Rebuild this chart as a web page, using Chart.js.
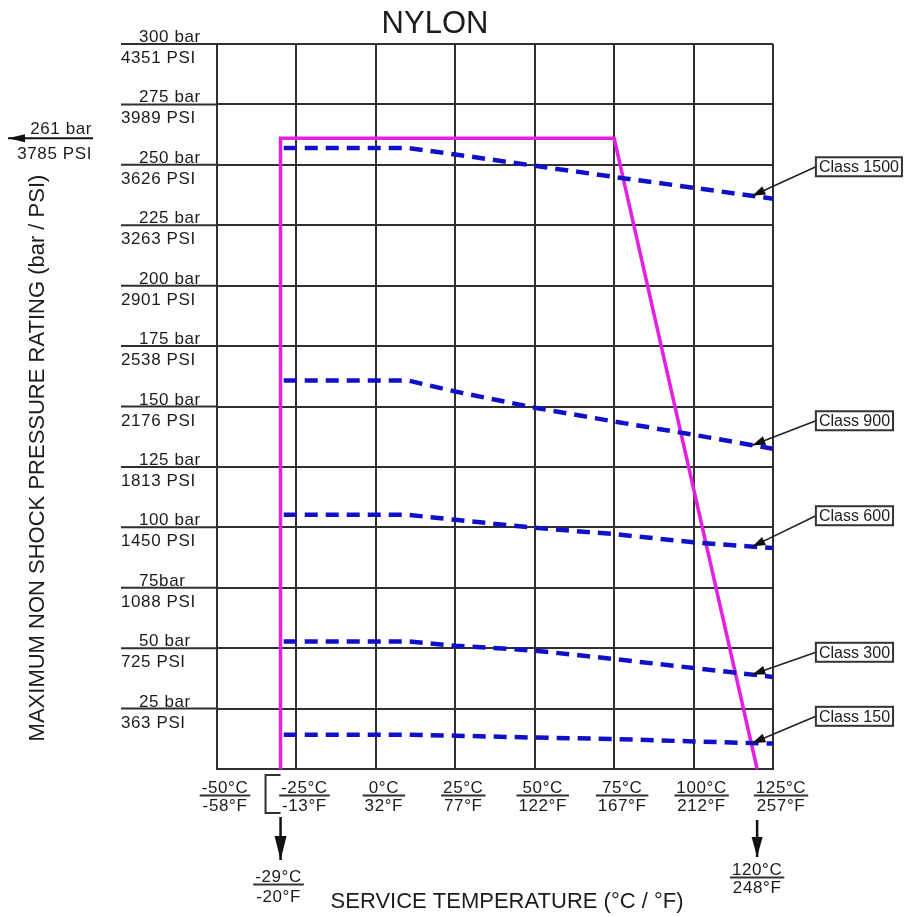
<!DOCTYPE html>
<html>
<head>
<meta charset="utf-8">
<script src="https://cdn.jsdelivr.net/npm/chart.js@4.4.1/dist/chart.umd.min.js"></script>
<style>
  html, body { margin: 0; padding: 0; background: #ffffff; }
  canvas { display: block; }
</style>
</head>
<body>
<canvas id="c" width="908" height="917"></canvas>
<script>
// ---------------- DATA ----------------
const chartTitle = 'NYLON';
const xTickC = ['-50°C', '-25°C', '0°C', '25°C', '50°C', '75°C', '100°C', '125°C'];
const xTickF = ['-58°F', '-13°F', '32°F', '77°F', '122°F', '167°F', '212°F', '257°F'];
const xTickValues = [-50, -25, 0, 25, 50, 75, 100, 125];
const yTickValues = [25, 50, 75, 100, 125, 150, 175, 200, 225, 250, 275, 300];
const yTickBar = ['25 bar', '50 bar', '75bar', '100 bar', '125 bar', '150 bar', '175 bar', '200 bar', '225 bar', '250 bar', '275 bar', '300 bar'];
const yTickPsi = ['363 PSI', '725 PSI', '1088 PSI', '1450 PSI', '1813 PSI', '2176 PSI', '2538 PSI', '2901 PSI', '3263 PSI', '3626 PSI', '3989 PSI', '4351 PSI'];

const classNames = ['Class 150', 'Class 300', 'Class 600', 'Class 900', 'Class 1500'];
const classTemps = [-29, 10, 25, 50, 75, 100, 125];
const class150  = [14.2, 14.2, 13.8, 13.0, 12.4, 11.4, 10.5];
const class300  = [52.8, 52.8, 51.0, 49.0, 45.5, 41.8, 38.1];
const class600  = [105.2, 105.2, 103.1, 99.8, 97.2, 93.8, 91.4];
const class900  = [160.8, 160.8, 156.2, 149.5, 143.8, 138.3, 132.5];
const class1500 = [257.0, 257.0, 254.3, 249.6, 245.0, 240.5, 236.0];
const classSeries = [class150, class300, class600, class900, class1500];

const nylonTemps = [-30, -30, 75, 120];
const nylonBar   = [0, 261, 261, 0];

const maxRatingBar = '261 bar';
const maxRatingPsi = '3785 PSI';
const minTempC = '-29°C', minTempF = '-20°F';
const maxTempC = '120°C', maxTempF = '248°F';
const yTitle = 'MAXIMUM NON SHOCK PRESSURE RATING (bar / PSI)';
const xTitle = 'SERVICE TEMPERATURE (°C / °F)';

// ---------------- LAYOUT / STYLE ----------------
const W = 908, H = 917;
const PLOT_LEFT = 217, PLOT_TOP = 44, PLOT_RIGHT = 773, PLOT_BOTTOM = 769;
const GRID = '#303030';
const TEXT = '#1c1c1c';
const BLUE = '#1010c8';
const MAGENTA = '#e421e2';
const FONT = '"Liberation Sans", Arial, sans-serif';
// class label boxes: anchor (box left-middle) in data units, arrow tip temperature
const labelBoxTemp = 138.5;
const labelBoxBar = [21.8, 48.3, 104.8, 144.1, 249.2];
const labelTipTemp = 118.5;

function interp(xs, ys, x) {
  for (let i = 0; i < xs.length - 1; i++) {
    if (x >= xs[i] && x <= xs[i + 1]) {
      const t = (x - xs[i]) / (xs[i + 1] - xs[i]);
      return ys[i] + t * (ys[i + 1] - ys[i]);
    }
  }
  return ys[ys.length - 1];
}

function arrow(ctx, x1, y1, x2, y2, len, half) {
  ctx.beginPath(); ctx.moveTo(x1, y1); ctx.lineTo(x2, y2); ctx.stroke();
  const a = Math.atan2(y2 - y1, x2 - x1);
  const bx = x2 - len * Math.cos(a), by = y2 - len * Math.sin(a);
  ctx.beginPath();
  ctx.moveTo(x2, y2);
  ctx.lineTo(bx + half * Math.sin(a), by - half * Math.cos(a));
  ctx.lineTo(bx - half * Math.sin(a), by + half * Math.cos(a));
  ctx.closePath(); ctx.fill();
}

function fraction(ctx, cx, b1, top, bottom, gap) {
  ctx.font = '17px ' + FONT;
  ctx.letterSpacing = '0.6px';
  ctx.textAlign = 'center';
  ctx.textBaseline = 'alphabetic';
  const w = Math.max(ctx.measureText(top).width, ctx.measureText(bottom).width);
  ctx.fillText(top, cx, b1);
  ctx.fillText(bottom, cx, b1 + gap);
  ctx.beginPath();
  ctx.lineWidth = 1.8;
  ctx.moveTo(cx - w / 2 - 2, b1 + 2.5);
  ctx.lineTo(cx + w / 2 + 2, b1 + 2.5);
  ctx.stroke();
  ctx.letterSpacing = '0px';
}

const decorPlugin = {
  id: 'decor',
  afterDraw(chart) {
    const ctx = chart.ctx;
    const xs = chart.scales.x, ys = chart.scales.y;
    const area = chart.chartArea;
    ctx.save();
    ctx.fillStyle = TEXT;
    ctx.strokeStyle = GRID;

    // Title
    ctx.font = '31px ' + FONT;
    ctx.textAlign = 'center';
    ctx.textBaseline = 'alphabetic';
    ctx.fillText(chartTitle, 435, 33);

    // Y tick extensions and labels
    ctx.font = '17px ' + FONT;
    ctx.letterSpacing = '0.6px';
    yTickValues.forEach((v, i) => {
      const y = ys.getPixelForValue(v);
      ctx.beginPath(); ctx.lineWidth = 2;
      ctx.moveTo(121, y); ctx.lineTo(area.left, y); ctx.stroke();
      ctx.textAlign = 'left';
      ctx.fillText(yTickBar[i], 139, y - 2);
      ctx.fillText(yTickPsi[i], 121, y + 19);
    });

    // 261 bar arrow on the left
    const yMax = ys.getPixelForValue(nylonBar[1]);
    ctx.textAlign = 'right';
    ctx.fillText(maxRatingBar, 92, yMax - 4);
    ctx.fillText(maxRatingPsi, 92, yMax + 21);
    ctx.letterSpacing = '0px';
    ctx.strokeStyle = '#111'; ctx.fillStyle = '#111'; ctx.lineWidth = 2;
    arrow(ctx, 93, yMax, 8, yMax, 17, 4);
    ctx.fillStyle = TEXT; ctx.strokeStyle = GRID;

    // X tick fraction labels
    xTickValues.forEach((v, i) => {
      const x = xs.getPixelForValue(v) + 8;
      fraction(ctx, x, 793, xTickC[i], xTickF[i], 18);
    });

    // -29 °C bracket + arrow
    const xMin = xs.getPixelForValue(nylonTemps[0]);
    ctx.strokeStyle = GRID; ctx.lineWidth = 2;
    ctx.beginPath();
    ctx.moveTo(xMin, 775); ctx.lineTo(xMin - 15, 775);
    ctx.lineTo(xMin - 15, 813); ctx.lineTo(xMin, 813);
    ctx.stroke();
    ctx.strokeStyle = '#111'; ctx.fillStyle = '#111'; ctx.lineWidth = 2.5;
    arrow(ctx, xMin, 817, xMin, 860, 24, 6);
    ctx.fillStyle = TEXT; ctx.strokeStyle = '#333';
    fraction(ctx, xMin - 2, 882, minTempC, minTempF, 20);

    // 120 °C arrow
    const xEnd = xs.getPixelForValue(nylonTemps[3]);
    ctx.strokeStyle = '#111'; ctx.fillStyle = '#111'; ctx.lineWidth = 2.5;
    arrow(ctx, xEnd, 820, xEnd, 857, 20, 5.5);
    ctx.fillStyle = TEXT; ctx.strokeStyle = '#333';
    fraction(ctx, xEnd, 875, maxTempC, maxTempF, 18);

    // Axis titles
    ctx.font = '22px ' + FONT;
    ctx.textAlign = 'center';
    ctx.textBaseline = 'alphabetic';
    ctx.fillText(xTitle, 507, 908);
    ctx.save();
    ctx.translate(43.5, 458);
    ctx.rotate(-Math.PI / 2);
    ctx.fillText(yTitle, 0, 0);
    ctx.restore();

    // Class labels with leader arrows
    ctx.font = '16px ' + FONT;
    classNames.forEach((name, i) => {
      const bx = xs.getPixelForValue(labelBoxTemp);
      const by = ys.getPixelForValue(labelBoxBar[i]);
      const tx = xs.getPixelForValue(labelTipTemp);
      const ty = ys.getPixelForValue(interp(classTemps, classSeries[i], labelTipTemp));
      ctx.strokeStyle = '#222'; ctx.fillStyle = '#111'; ctx.lineWidth = 1.6;
      arrow(ctx, bx, by, tx, ty, 13, 4.5);
      const tw = ctx.measureText(name).width;
      const bw = tw + 6, bh = 19;
      ctx.fillStyle = '#ffffff';
      ctx.fillRect(bx, by - bh / 2, bw, bh);
      ctx.strokeStyle = '#333'; ctx.lineWidth = 2;
      ctx.strokeRect(bx, by - bh / 2, bw, bh);
      ctx.fillStyle = TEXT;
      ctx.textAlign = 'left';
      ctx.textBaseline = 'middle';
      ctx.fillText(name, bx + 3, by + 1);
    });
    ctx.restore();
  }
};

const datasets = classSeries.map((vals, i) => ({
  label: classNames[i],
  data: classTemps.map((t, j) => ({ x: t, y: vals[j] })),
  borderColor: BLUE,
  borderWidth: 4.5,
  borderDash: [13, 8],
  pointRadius: 0,
  tension: 0,
  fill: false,
  order: 0
}));
datasets.push({
  label: chartTitle,
  data: nylonTemps.map((t, j) => ({ x: t, y: nylonBar[j] })),
  borderColor: MAGENTA,
  borderWidth: 3.5,
  pointRadius: 0,
  tension: 0,
  fill: false,
  clip: false,
  order: 1
});

new Chart(document.getElementById('c'), {
  type: 'line',
  data: { datasets },
  plugins: [decorPlugin],
  options: {
    responsive: false,
    devicePixelRatio: 1,
    animation: false,
    events: [],
    layout: { padding: { top: PLOT_TOP, right: W - PLOT_RIGHT, left: 0, bottom: 0 } },
    plugins: { legend: { display: false }, tooltip: { enabled: false }, title: { display: false } },
    scales: {
      x: {
        type: 'linear', min: -50, max: 125,
        ticks: { display: false, stepSize: 25 },
        grid: { color: GRID, lineWidth: 2, drawTicks: false },
        border: { display: true, color: GRID, width: 2 },
        afterFit(s) { s.height = H - PLOT_BOTTOM; }
      },
      y: {
        type: 'linear', min: 0, max: 300,
        ticks: { display: false, stepSize: 25 },
        grid: { color: GRID, lineWidth: 2, drawTicks: false },
        border: { display: true, color: GRID, width: 2 },
        afterFit(s) { s.width = PLOT_LEFT; }
      }
    }
  }
});
</script>
</body>
</html>
